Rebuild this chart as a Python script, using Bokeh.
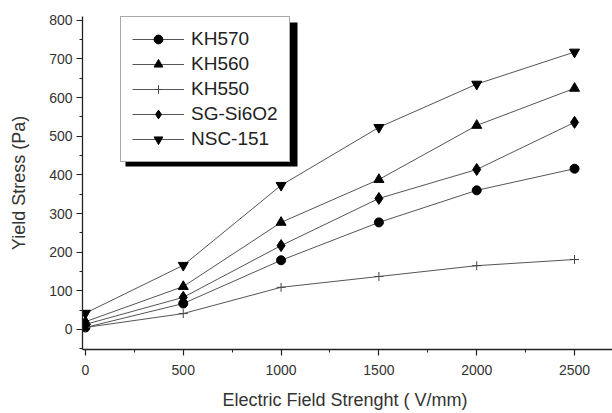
from bokeh.plotting import figure
from bokeh.models import Range1d, SingleIntervalTicker, Legend, LegendItem, BoxAnnotation
from bokeh.embed import file_html
from bokeh.resources import INLINE

field = [0, 500, 1000, 1500, 2000, 2500]
kh570 = [5, 67, 179, 277, 360, 416]
kh560 = [20, 111, 277, 388, 528, 624]
kh550 = [5, 41, 109, 137, 165, 181]
sg_si6o2 = [13, 83, 217, 339, 414, 536]
nsc151 = [42, 166, 373, 523, 635, 718]

series = [
    ("KH570", kh570, "circle", 9),
    ("KH560", kh560, "triangle", 10),
    ("KH550", kh550, "cross", 9),
    ("SG-Si6O2", sg_si6o2, "diamond", 12),
    ("NSC-151", nsc151, "inverted_triangle", 10),
]

FONT = "Liberation Sans"

p = figure(width=612, height=413, output_backend="svg", toolbar_location=None,
           x_range=Range1d(-15, 2694), y_range=Range1d(-52, 810),
           min_border_left=82, min_border_right=0, min_border_top=16, min_border_bottom=64)
p.xgrid.visible = False
p.ygrid.visible = False
p.outline_line_color = None
p.background_fill_color = "white"

p.xaxis.ticker = SingleIntervalTicker(interval=500, num_minor_ticks=2)
p.yaxis.ticker = SingleIntervalTicker(interval=100, num_minor_ticks=2)
p.xaxis.axis_label = "Electric Field Strenght  ( V/mm)"
p.yaxis.axis_label = "Yield Stress (Pa)"
for ax in p.axis:
    ax.axis_line_color = "#222222"
    ax.axis_line_width = 1.3
    ax.major_tick_line_color = "#222222"
    ax.minor_tick_line_color = "#222222"
    ax.major_tick_line_width = 1.2
    ax.major_tick_out = 6
    ax.major_tick_in = 0
    ax.minor_tick_out = 3
    ax.minor_tick_in = 0
    ax.major_label_text_font = FONT
    ax.major_label_text_font_size = "14px"
    ax.major_label_text_color = "#333333"
    ax.axis_label_text_font = FONT
    ax.axis_label_text_font_size = "18px"
    ax.axis_label_text_font_style = "normal"
    ax.axis_label_text_color = "#333333"
p.xaxis.major_label_standoff = 9
p.xaxis.axis_label_standoff = 12
p.yaxis.major_label_standoff = 4
p.yaxis.axis_label_standoff = 17

items = []
for name, vals, marker, size in series:
    ln = p.line(field, vals, line_color="#555555", line_width=1)
    if marker == "cross":
        sc = p.scatter(field, vals, marker=marker, size=size, line_color="#444444", line_width=1)
    else:
        sc = p.scatter(field, vals, marker=marker, size=size, fill_color="black", line_color="black")
    items.append(LegendItem(label=name, renderers=[ln, sc]))

shadow = BoxAnnotation(left=43, right=215, bottom=183, top=327,
                       left_units="screen", right_units="screen",
                       top_units="screen", bottom_units="screen",
                       fill_color="black", fill_alpha=1, line_color=None)
p.add_layout(shadow)

legend = Legend(items=items, location=(38, 187), orientation="vertical",
                border_line_color="#555555", border_line_width=1.5,
                background_fill_color="white", background_fill_alpha=1,
                label_text_font=FONT, label_text_font_size="19px", label_text_color="#222222",
                glyph_width=52, glyph_height=22, label_height=22, label_standoff=7,
                spacing=3, padding=11, margin=0)
p.add_layout(legend)

open("out.html", "w").write(file_html(p, INLINE))
